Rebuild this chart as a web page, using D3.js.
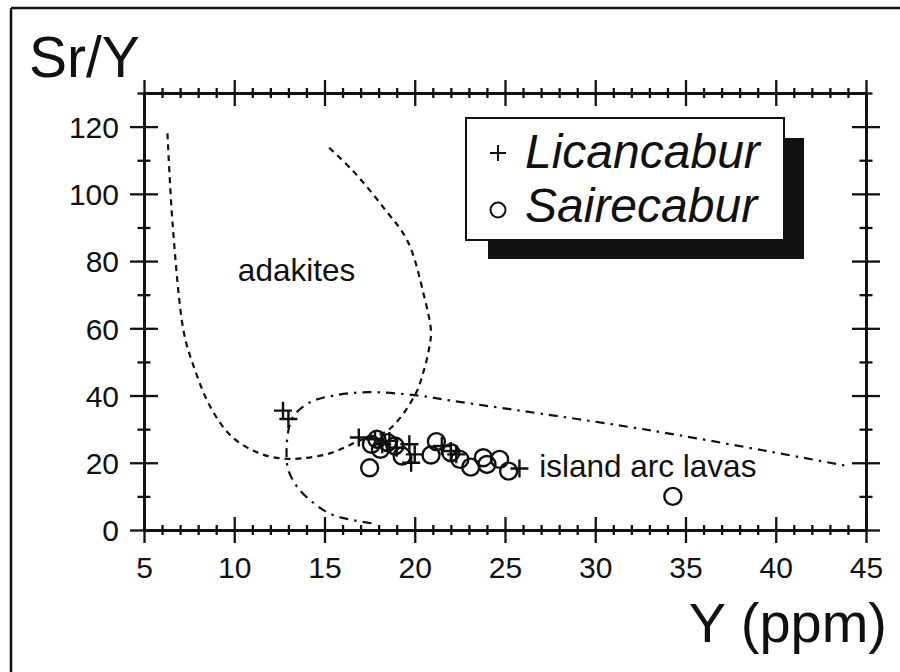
<!DOCTYPE html>
<html>
<head>
<meta charset="utf-8">
<script src="https://cdn.jsdelivr.net/npm/d3@7"></script>
<style>
  html, body { margin: 0; padding: 0; background: #fff; }
  svg text { font-family: "Liberation Sans", Arial, Helvetica, sans-serif; fill: #111; }
</style>
</head>
<body>
<svg id="chart" width="900" height="672"></svg>
<script>
// ---------- DATA ----------
const xTicks = [5, 10, 15, 20, 25, 30, 35, 40, 45];
const yTicks = [0, 20, 40, 60, 80, 100, 120];
const xDomain = [5, 45];
const yDomain = [0, 130];

// Licancabur (+)
const licancaburY  = [12.7, 13.0, 16.9, 17.8, 18.2, 18.6, 19.0, 19.7, 19.8, 20.0, 21.5, 22.0, 22.3, 25.8];
const licancaburSrY = [35.5, 33.0, 27.5, 27.0, 25.5, 26.5, 24.5, 25.5, 20.0, 22.5, 25.0, 23.5, 22.5, 18.3];

// Sairecabur (o)
const sairecaburY   = [17.5, 17.6, 17.9, 18.1, 18.5, 18.9, 19.3, 20.9, 21.2, 22.0, 22.5, 23.1, 23.8, 24.0, 24.7, 25.2, 34.3];
const sairecaburSrY = [18.5, 25.5, 27.0, 24.0, 26.0, 25.0, 22.0, 22.3, 26.3, 23.0, 21.0, 18.7, 21.5, 19.5, 21.0, 17.5, 10.0];

// Adakite field boundary (dashed)
const adakiteY   = [6.3, 6.6, 7.2, 7.7, 8.7, 9.9, 11.4, 12.6, 13.7, 15.3, 17.0, 18.5, 20.0, 20.5, 20.8, 20.9, 20.5, 19.6, 18.3, 16.6, 15.2];
const adakiteSrY = [118, 90, 59, 49.5, 36.4, 27.6, 22.8, 21.3, 21.3, 22.8, 26.7, 29.6, 40, 47.4, 54.2, 59, 70, 86, 95.7, 106.7, 114];

// Island arc lavas field boundary (dash-dot)
const arcY   = [17.6, 15.5, 14.4, 13.5, 13.0, 12.9, 13.0, 13.3, 14.2, 15.5, 17.4, 20.2, 22.0, 33.1, 43.8];
const arcSrY = [2.0, 4.4, 8.0, 12.7, 17.8, 21.6, 29.6, 34.0, 38.0, 40.0, 41.0, 40.0, 38.5, 29.6, 19.2];

const seriesNames = ["Licancabur", "Sairecabur"];
const fieldLabels = ["adakites", "island arc lavas"];
const xTitle = "Y (ppm)";
const yTitle = "Sr/Y";

// ---------- CHART ----------
const svg = d3.select("#chart");
const ink = "#111";
const sw = 2.3;

// frame (top + left lines of the cropped figure)
svg.append("line").attr("x1", 11).attr("y1", 8).attr("x2", 900).attr("y2", 8)
  .attr("stroke", ink).attr("stroke-width", 2.5);
svg.append("line").attr("x1", 11).attr("y1", 8).attr("x2", 11).attr("y2", 672)
  .attr("stroke", ink).attr("stroke-width", 2.5);

const x = d3.scaleLinear().domain(xDomain).range([144, 866]);
const y = d3.scaleLinear().domain(yDomain).range([530, 93]);

const xMinor = d3.range(xDomain[0], xDomain[1] + 0.001, 1).filter(v => v % 5 !== 0);
const yMinor = d3.range(10, yDomain[1] + 0.001, 20);

function styleAxis(g) {
  g.selectAll("path.domain").attr("stroke", ink).attr("stroke-width", sw);
  g.selectAll("line").attr("stroke", ink).attr("stroke-width", sw);
}

// Bottom axis: major (crossing) + labels
const gBottom = svg.append("g").attr("transform", `translate(0,${y(0)})`);
[[xTicks, 13], [xMinor, 5]].forEach(([vals, s]) => {
  gBottom.append("g").call(d3.axisBottom(x).tickValues(vals).tickSize(s).tickSizeOuter(0).tickFormat("")).call(styleAxis);
  gBottom.append("g").call(d3.axisTop(x).tickValues(vals).tickSize(s).tickSizeOuter(0).tickFormat("")).call(styleAxis);
});
gBottom.append("g").call(d3.axisBottom(x).tickValues(xTicks).tickSize(0).tickPadding(27).tickFormat(d3.format("d")))
  .call(g => { g.select("path.domain").remove(); g.selectAll("line").remove(); })
  .selectAll("text").attr("font-size", 30).attr("fill", ink)
  .attr("font-family", '"Liberation Sans", Arial, sans-serif');

// Top axis (no labels)
const gTop = svg.append("g").attr("transform", `translate(0,${y(yDomain[1])})`);
[[xTicks, 13], [xMinor, 5]].forEach(([vals, s]) => {
  gTop.append("g").call(d3.axisTop(x).tickValues(vals).tickSize(s).tickSizeOuter(0).tickFormat("")).call(styleAxis);
  gTop.append("g").call(d3.axisBottom(x).tickValues(vals).tickSize(s).tickSizeOuter(0).tickFormat("")).call(styleAxis);
});

// Left axis
const gLeft = svg.append("g").attr("transform", `translate(${x(xDomain[0])},0)`);
[[yTicks, 14], [yMinor, 6.5]].forEach(([vals, s]) => {
  gLeft.append("g").call(d3.axisLeft(y).tickValues(vals).tickSize(s).tickSizeOuter(0).tickFormat("")).call(styleAxis);
  gLeft.append("g").call(d3.axisRight(y).tickValues(vals).tickSize(s).tickSizeOuter(0).tickFormat("")).call(styleAxis);
});
gLeft.append("g").call(d3.axisLeft(y).tickValues(yTicks).tickSize(0).tickPadding(25).tickFormat(d3.format("d")))
  .call(g => { g.select("path.domain").remove(); g.selectAll("line").remove(); })
  .selectAll("text").attr("font-size", 30).attr("fill", ink).attr("dy", "0.36em")
  .attr("font-family", '"Liberation Sans", Arial, sans-serif');

// Right axis
const gRight = svg.append("g").attr("transform", `translate(${x(xDomain[1])},0)`);
[[yTicks, 14], [yMinor, 6.5]].forEach(([vals, s]) => {
  gRight.append("g").call(d3.axisLeft(y).tickValues(vals).tickSize(s).tickSizeOuter(0).tickFormat("")).call(styleAxis);
  gRight.append("g").call(d3.axisRight(y).tickValues(vals).tickSize(s).tickSizeOuter(0).tickFormat("")).call(styleAxis);
});

// Field boundaries
const lineGen = d3.line().x(d => x(d[0])).y(d => y(d[1])).curve(d3.curveCatmullRom.alpha(0.5));
svg.append("path").datum(d3.zip(adakiteY, adakiteSrY)).attr("d", lineGen)
  .attr("fill", "none").attr("stroke", ink).attr("stroke-width", 2.2).attr("stroke-dasharray", "6,5");
svg.append("path").datum(d3.zip(arcY, arcSrY)).attr("d", lineGen)
  .attr("fill", "none").attr("stroke", ink).attr("stroke-width", 2.2).attr("stroke-dasharray", "9,6,2.5,6");

// Field labels
svg.append("text").attr("x", x(10.2)).attr("y", y(74)).attr("font-size", 31.5).text(fieldLabels[0]);
svg.append("text").attr("x", x(26.9)).attr("y", y(15.8)).attr("font-size", 31.5).text(fieldLabels[1]);

// Points
const plusPath = (s) => `M${-s},0H${s}M0,${-s}V${s}`;
svg.append("g").selectAll("path").data(d3.zip(licancaburY, licancaburSrY)).join("path")
  .attr("transform", d => `translate(${x(d[0])},${y(d[1])})`)
  .attr("d", plusPath(9)).attr("stroke", ink).attr("stroke-width", 2.4).attr("fill", "none");
svg.append("g").selectAll("circle").data(d3.zip(sairecaburY, sairecaburSrY)).join("circle")
  .attr("cx", d => x(d[0])).attr("cy", d => y(d[1])).attr("r", 8.5)
  .attr("fill", "none").attr("stroke", ink).attr("stroke-width", 2.4);

// Axis titles
svg.append("text").attr("x", 29).attr("y", 77).attr("font-size", 57).text(yTitle);
svg.append("text").attr("x", 887).attr("y", 642).attr("font-size", 56).attr("text-anchor", "end").text(xTitle);

// Legend
const lg = svg.append("g");
lg.append("rect").attr("x", 488).attr("y", 138).attr("width", 316).attr("height", 121).attr("fill", ink);
lg.append("rect").attr("x", 466).attr("y", 118).attr("width", 318).attr("height", 122)
  .attr("fill", "#fff").attr("stroke", ink).attr("stroke-width", 2);
lg.append("path").attr("transform", "translate(498,153)").attr("d", plusPath(8))
  .attr("stroke", ink).attr("stroke-width", 2).attr("fill", "none");
lg.append("circle").attr("cx", 498).attr("cy", 210).attr("r", 7.5)
  .attr("fill", "none").attr("stroke", ink).attr("stroke-width", 2);
lg.append("text").attr("x", 525).attr("y", 168).attr("font-size", 48).attr("font-style", "italic").text(seriesNames[0]);
lg.append("text").attr("x", 525).attr("y", 222).attr("font-size", 48).attr("font-style", "italic").text(seriesNames[1]);
</script>
</body>
</html>
